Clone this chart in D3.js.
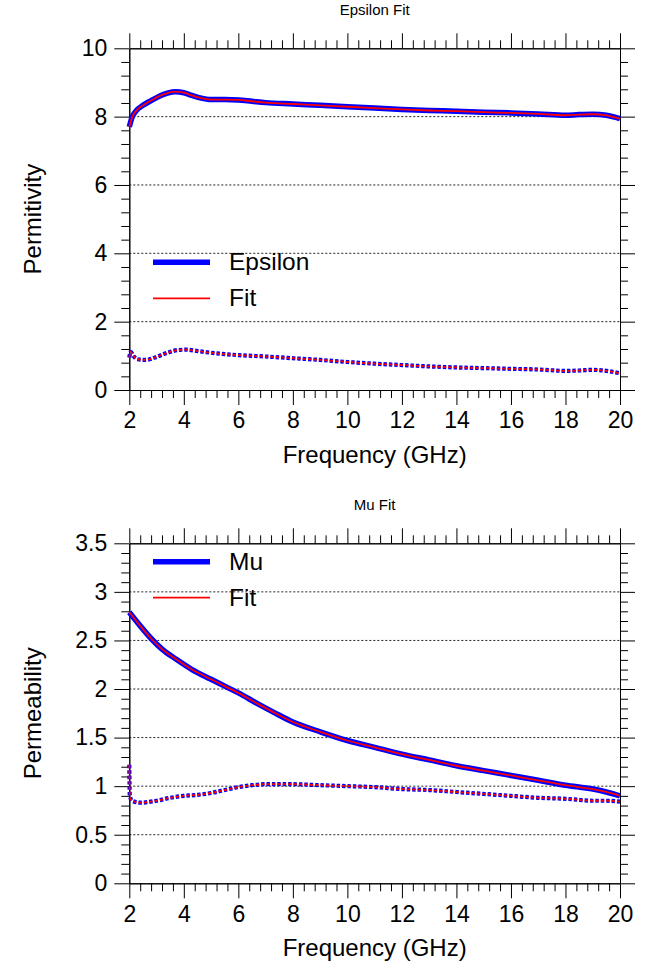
<!DOCTYPE html>
<html>
<head>
<meta charset="utf-8">
<script src="https://cdn.jsdelivr.net/npm/d3@7"></script>
<style>
  html, body { margin: 0; padding: 0; background: #fff; }
  svg { display: block; font-family: "Liberation Sans", Arial, Helvetica, sans-serif; }
</style>
</head>
<body>
<svg id="chart" width="655" height="966"></svg>
<script>
// ---- Permittivity: measured (Epsilon) and fitted curves ----
const epsRealFreq = [2.0, 2.1, 2.25, 2.5, 2.8, 3.1, 3.4, 3.7, 4.0, 4.3, 4.6, 5.0, 5.5, 6.0, 6.5, 7.0, 8.0, 9.0, 10.0, 11.0, 12.0, 13.0, 14.0, 15.0, 16.0, 17.0, 18.0, 18.5, 19.0, 19.5, 20.0];
const epsReal     = [7.70, 7.98, 8.17, 8.33, 8.47, 8.60, 8.69, 8.73, 8.70, 8.62, 8.55, 8.50, 8.50, 8.49, 8.45, 8.41, 8.37, 8.33, 8.29, 8.25, 8.21, 8.18, 8.16, 8.13, 8.11, 8.08, 8.04, 8.06, 8.07, 8.04, 7.94];
const epsRealFit  = [7.70, 7.98, 8.17, 8.33, 8.47, 8.60, 8.69, 8.73, 8.70, 8.62, 8.55, 8.50, 8.50, 8.49, 8.45, 8.41, 8.37, 8.33, 8.29, 8.25, 8.21, 8.18, 8.16, 8.13, 8.11, 8.08, 8.04, 8.06, 8.07, 8.04, 7.94];

const epsImagFreq = [2.0, 2.05, 2.15, 2.3, 2.6, 3.0, 3.4, 3.8, 4.1, 4.5, 5.0, 5.5, 6.0, 7.0, 8.0, 9.0, 10.0, 11.0, 12.0, 13.0, 14.0, 15.0, 16.0, 17.0, 18.0, 18.5, 19.0, 19.5, 20.0];
const epsImag     = [0.95, 1.12, 1.00, 0.90, 0.88, 0.97, 1.09, 1.17, 1.18, 1.14, 1.09, 1.05, 1.02, 0.98, 0.93, 0.88, 0.82, 0.77, 0.73, 0.69, 0.66, 0.64, 0.62, 0.60, 0.56, 0.57, 0.59, 0.56, 0.49];
const epsImagFit  = [0.95, 1.12, 1.00, 0.90, 0.88, 0.97, 1.09, 1.17, 1.18, 1.14, 1.09, 1.05, 1.02, 0.98, 0.93, 0.88, 0.82, 0.77, 0.73, 0.69, 0.66, 0.64, 0.62, 0.60, 0.56, 0.57, 0.59, 0.56, 0.49];

// ---- Permeability: measured (Mu) and fitted curves ----
const muRealFreq = [2.0, 2.4, 2.8, 3.2, 3.7, 4.3, 5.0, 5.5, 6.0, 6.7, 7.3, 8.0, 9.0, 10.0, 11.0, 12.0, 13.0, 14.0, 15.0, 16.0, 17.0, 18.0, 19.0, 19.5, 20.0];
const muReal     = [2.79, 2.65, 2.52, 2.41, 2.31, 2.20, 2.10, 2.03, 1.96, 1.85, 1.76, 1.66, 1.56, 1.47, 1.40, 1.33, 1.27, 1.21, 1.16, 1.11, 1.06, 1.01, 0.97, 0.94, 0.90];
const muRealFit  = [2.79, 2.65, 2.52, 2.41, 2.31, 2.20, 2.10, 2.03, 1.96, 1.85, 1.76, 1.66, 1.56, 1.47, 1.40, 1.33, 1.27, 1.21, 1.16, 1.11, 1.06, 1.01, 0.97, 0.94, 0.90];

const muImagFreq = [2.0, 2.02, 2.1, 2.4, 3.0, 3.5, 4.0, 4.5, 5.0, 5.5, 6.0, 6.5, 7.0, 8.0, 9.0, 10.0, 11.0, 12.0, 13.0, 14.0, 15.0, 16.0, 17.0, 18.0, 19.0, 19.5, 20.0];
const muImag     = [1.22, 0.90, 0.85, 0.83, 0.85, 0.88, 0.90, 0.91, 0.93, 0.96, 0.99, 1.01, 1.02, 1.02, 1.01, 1.00, 0.99, 0.97, 0.96, 0.94, 0.92, 0.90, 0.88, 0.87, 0.85, 0.85, 0.84];
const muImagFit  = [1.22, 0.90, 0.85, 0.83, 0.85, 0.88, 0.90, 0.91, 0.93, 0.96, 0.99, 1.01, 1.02, 1.02, 1.01, 1.00, 0.99, 0.97, 0.96, 0.94, 0.92, 0.90, 0.88, 0.87, 0.85, 0.85, 0.84];

// ---- Axis ticks and labels ----
const freqTicks = [2, 4, 6, 8, 10, 12, 14, 16, 18, 20];
const epsTicks  = [0, 2, 4, 6, 8, 10];
const muTicks   = [0, 0.5, 1, 1.5, 2, 2.5, 3, 3.5];

const svg = d3.select("#chart");
const X0 = 129.3, X1 = 620;
const BLUE = "#0000ff", RED = "#ff0000";

function zip(xs, ys) { return xs.map((x, i) => [x, ys[i]]); }

function drawPanel(p) {
  const x = d3.scaleLinear().domain([2, 20]).range([X0, X1]);
  const y = d3.scaleLinear().domain(p.yDomain).range([p.yBottom, p.yTop]);
  const g = svg.append("g");

  // minor tick positions between labelled ticks
  const xMinor = d3.range(0, 46).filter(i => i % 5 !== 0).map(i => 2 + i * 0.4);
  const yMinor = d3.range(0, p.minorCount + 1).filter(i => i % 5 !== 0).map(i => p.yDomain[0] + i * p.minorStep);

  // dotted horizontal grid at inner labelled ticks
  g.append("g").selectAll("line")
    .data(p.yTicks.filter(v => v > p.yDomain[0] && v < p.yDomain[1]))
    .join("line")
    .attr("x1", X0).attr("x2", X1)
    .attr("y1", d => y(d)).attr("y2", d => y(d))
    .attr("stroke", "#222").attr("stroke-width", 1)
    .attr("stroke-dasharray", "2,2");

  const fmt = d => String(d);
  const axes = [
    [d3.axisLeft(y).tickValues(p.yTicks).tickSize(15).tickPadding(7).tickFormat(fmt), `translate(${X0},0)`],
    [d3.axisLeft(y).tickValues(yMinor).tickSize(8).tickFormat(""), `translate(${X0},0)`],
    [d3.axisRight(y).tickValues(p.yTicks).tickSize(15).tickFormat(""), `translate(${X1},0)`],
    [d3.axisRight(y).tickValues(yMinor).tickSize(8).tickFormat(""), `translate(${X1},0)`],
    [d3.axisBottom(x).tickValues(freqTicks).tickSize(15).tickPadding(7).tickFormat(fmt), `translate(0,${p.yBottom})`],
    [d3.axisBottom(x).tickValues(xMinor).tickSize(8).tickFormat(""), `translate(0,${p.yBottom})`],
    [d3.axisTop(x).tickValues(freqTicks).tickSize(15).tickFormat(""), `translate(0,${p.yTop})`],
    [d3.axisTop(x).tickValues(xMinor).tickSize(8).tickFormat(""), `translate(0,${p.yTop})`]
  ];
  axes.forEach(([ax, tr]) => {
    const a = g.append("g").attr("transform", tr).call(ax.tickSizeOuter(0));
    a.select(".domain").attr("stroke", "#000").attr("stroke-width", 1);
    a.selectAll(".tick line").attr("stroke", "#000").attr("stroke-width", 1);
    a.selectAll(".tick text").attr("fill", "#000").attr("font-size", 23)
      .attr("font-family", "\"Liberation Sans\", Arial, Helvetica, sans-serif");
  });

  // curves
  const line = d3.line().x(d => x(d[0])).y(d => y(d[1])).curve(d3.curveMonotoneX);
  const plot = g.append("g");
  plot.append("path").datum(zip(p.realFreq, p.real)).attr("d", line)
    .attr("fill", "none").attr("stroke", BLUE).attr("stroke-width", 5.5);
  plot.append("path").datum(zip(p.imagFreq, p.imag)).attr("d", line)
    .attr("fill", "none").attr("stroke", BLUE).attr("stroke-width", 4.2).attr("stroke-dasharray", "3.4,2");
  plot.append("path").datum(zip(p.realFreq, p.realFit)).attr("d", line)
    .attr("fill", "none").attr("stroke", RED).attr("stroke-width", 1.8);
  plot.append("path").datum(zip(p.imagFreq, p.imagFit)).attr("d", line)
    .attr("fill", "none").attr("stroke", RED).attr("stroke-width", 1.8).attr("stroke-dasharray", "3.4,2");

  // legend
  const lg = g.append("g");
  lg.append("line").attr("x1", 153).attr("x2", 210).attr("y1", p.legendY).attr("y2", p.legendY)
    .attr("stroke", BLUE).attr("stroke-width", 5.5);
  lg.append("text").attr("x", 229).attr("y", p.legendY + 8).attr("font-size", 24.5).text(p.name);
  lg.append("line").attr("x1", 153).attr("x2", 210).attr("y1", p.legendY + 36).attr("y2", p.legendY + 36)
    .attr("stroke", RED).attr("stroke-width", 1.8);
  lg.append("text").attr("x", 229).attr("y", p.legendY + 44).attr("font-size", 24.5).text("Fit");

  // titles
  g.append("text").attr("x", (X0 + X1) / 2).attr("y", p.yTop - 33).attr("text-anchor", "middle")
    .attr("font-size", 15).text(p.title);
  g.append("text").attr("x", (X0 + X1) / 2).attr("y", p.yBottom + 73).attr("text-anchor", "middle")
    .attr("font-size", 24).text("Frequency (GHz)");
  g.append("text")
    .attr("transform", `translate(41,${(p.yTop + p.yBottom) / 2}) rotate(-90)`)
    .attr("text-anchor", "middle").attr("font-size", 24).text(p.yLabel);
}

drawPanel({
  title: "Epsilon Fit", name: "Epsilon", yLabel: "Permitivity",
  yDomain: [0, 10], yTicks: epsTicks, minorStep: 0.4, minorCount: 25,
  yTop: 48.3, yBottom: 390, legendY: 262.3,
  realFreq: epsRealFreq, real: epsReal, realFit: epsRealFit,
  imagFreq: epsImagFreq, imag: epsImag, imagFit: epsImagFit
});

drawPanel({
  title: "Mu Fit", name: "Mu", yLabel: "Permeability",
  yDomain: [0, 3.5], yTicks: muTicks, minorStep: 0.1, minorCount: 35,
  yTop: 543.3, yBottom: 883.3, legendY: 561.7,
  realFreq: muRealFreq, real: muReal, realFit: muRealFit,
  imagFreq: muImagFreq, imag: muImag, imagFit: muImagFit
});
</script>
</body>
</html>
